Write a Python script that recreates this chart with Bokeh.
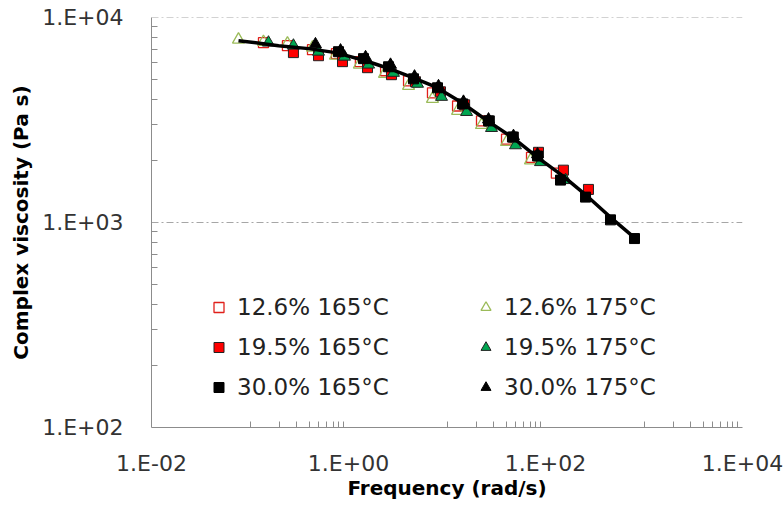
from bokeh.plotting import figure
from bokeh.models import FixedTicker, Legend, LegendItem, Range1d, Span
from bokeh.embed import file_html
from bokeh.resources import INLINE

# ---- data (frequency in rad/s, complex viscosity in Pa s) ----
freq_126_165 = [0.137, 0.240, 0.431, 0.755, 1.32, 2.38, 4.07, 7.12, 12.8, 22.4, 40.2, 72.1, 129]
visc_126_165 = [7540, 7290, 6970, 6660, 6090, 5500, 4910, 4290, 3700, 3130, 2550, 2080, 1740]

freq_126_175 = [0.0764, 0.137, 0.240, 0.431, 0.738, 1.29, 2.32, 4.07, 7.12, 12.8, 22.4, 40.2, 70.4]
visc_126_175 = [7800, 7600, 7460, 7130, 6510, 5890, 5310, 4640, 4010, 3500, 2990, 2470, 2010]

freq_195_165 = [0.276, 0.496, 0.869, 1.56, 2.73, 4.79, 8.59, 15.1, 27.0, 47.3, 84.9, 152, 273]
visc_195_165 = [6740, 6510, 6090, 5690, 5260, 4860, 4340, 3750, 3130, 2610, 2200, 1800, 1450]

freq_195_175 = [0.154, 0.276, 0.496, 0.911, 1.60, 2.86, 5.02, 8.80, 15.8, 28.3, 49.6, 89.0, 160]
visc_195_175 = [7540, 7290, 6810, 6440, 5890, 5370, 4750, 4100, 3460, 2890, 2380, 1970, 1610]

freq_300_165 = [0.792, 1.42, 2.55, 4.57, 8.01, 14.4, 26.4, 46.2, 83.0, 142, 255, 457, 801]
visc_300_165 = [6810, 6300, 5750, 5020, 4540, 3790, 3130, 2610, 2110, 1610, 1330, 1030, 835]

freq_300_175 = [0.462, 0.830, 1.49, 2.67, 4.68, 8.20, 14.7, 26.4, 47.3, 83.0]
visc_300_175 = [7400, 6900, 6400, 5880, 5150, 4620, 3880, 3180, 2640, 2150]

fit_freq = [0.0764, 0.195, 0.393, 0.738, 1.49, 2.80, 4.57, 7.64, 13.7, 25.8, 47.3, 83.0, 152, 267, 457, 820]
fit_visc = [7710, 7290, 7050, 6740, 6150, 5560, 5080, 4590, 3880, 3130, 2580, 2080, 1680, 1340, 1060, 835]

series_labels = ["12.6% 165°C", "19.5% 165°C", "30.0% 165°C",
                 "12.6% 175°C", "19.5% 175°C", "30.0% 175°C"]

x_ticks = [0.01, 1, 100, 10000]
x_tick_labels = ["1.E-02", "1.E+00", "1.E+02", "1.E+04"]
y_ticks = [100, 1000, 10000]
y_tick_labels = ["1.E+02", "1.E+03", "1.E+04"]
x_minor = [k * 0.1 for k in range(1, 10)] + [k * 10 for k in range(1, 10)] + [k * 1000 for k in range(1, 10)]
y_minor = [k * 100 for k in range(2, 10)] + [k * 1000 for k in range(2, 10)]

FONT = "DejaVu Sans"

p = figure(width=783, height=510, x_axis_type="log", y_axis_type="log",
           x_range=Range1d(0.01, 10000), y_range=Range1d(100, 10000),
           output_backend="svg", toolbar_location=None,
           min_border_left=151, min_border_right=41, min_border_top=17, min_border_bottom=83)
p.outline_line_color = None
p.background_fill_color = "white"
p.border_fill_color = "white"

# axes
p.xaxis.ticker = FixedTicker(ticks=x_ticks, minor_ticks=x_minor)
p.yaxis.ticker = FixedTicker(ticks=y_ticks, minor_ticks=y_minor)
p.xaxis.major_label_overrides = {t: l for t, l in zip(x_ticks, x_tick_labels)}
p.yaxis.major_label_overrides = {t: l for t, l in zip(y_ticks, y_tick_labels)}
for ax in (p.xaxis[0], p.yaxis[0]):
    ax.axis_line_color = "#8C8C8C"
    ax.axis_line_width = 1
    ax.major_tick_line_color = None
    ax.major_tick_in = 0
    ax.major_tick_out = 0
    ax.minor_tick_line_color = "#8C8C8C"
    ax.minor_tick_in = 6
    ax.minor_tick_out = 0
    ax.major_label_text_font = FONT
    ax.major_label_text_font_size = "22px"
    ax.major_label_text_color = "#333333"
    ax.axis_label_text_font = FONT
    ax.axis_label_text_font_style = "bold"
    ax.axis_label_text_font_size = "20px"
    ax.axis_label_text_color = "black"

p.xaxis.axis_label = "Frequency (rad/s)"
p.yaxis.axis_label = "Complex viscosity (Pa s)"
p.xaxis.major_label_standoff = 23
p.yaxis.major_label_standoff = 28
p.xaxis.axis_label_standoff = -3
p.yaxis.axis_label_standoff = 6

# grid
p.xgrid.visible = False
p.ygrid.ticker = FixedTicker(ticks=y_ticks)
p.ygrid.grid_line_color = "#A6A6A6"
p.ygrid.grid_line_dash = "7 3 2 3"
p.ygrid.grid_line_width = 1
p.add_layout(Span(location=y_ticks[-1], dimension="width", line_color="#A6A6A6",
                  line_dash="7 3 2 3", line_width=1))

# series
r_126_165 = p.scatter(freq_126_165, visc_126_165, marker="square", size=10,
                      fill_alpha=0, line_color="#E0201B", line_width=1.3)
r_126_175 = p.scatter(freq_126_175, visc_126_175, marker="triangle", size=12,
                      fill_alpha=0, line_color="#9BBB59", line_width=1.3)
r_195_165 = p.scatter(freq_195_165, visc_195_165, marker="square", size=10,
                      fill_color="#FF0000", line_color="#222222", line_width=1)
r_195_175 = p.scatter(freq_195_175, visc_195_175, marker="triangle", size=12,
                      fill_color="#00A651", line_color="#222222", line_width=1)
r_300_175 = p.scatter(freq_300_175, visc_300_175, marker="triangle", size=12,
                      fill_color="black", line_color="black", line_width=1)
r_300_165 = p.scatter(freq_300_165, visc_300_165, marker="square", size=10,
                      fill_color="black", line_color="black", line_width=1)
p.line(fit_freq, fit_visc, line_color="black", line_width=3.5)

renderers_left = [r_126_165, r_195_165, r_300_165]
renderers_right = [r_126_175, r_195_175, r_300_175]


def make_legend(items, loc):
    lg = Legend(items=items, location=loc, orientation="vertical")
    lg.border_line_color = None
    lg.background_fill_alpha = 0
    lg.padding = 0
    lg.margin = 0
    lg.spacing = 10
    lg.glyph_width = 25
    lg.glyph_height = 30
    lg.label_height = 30
    lg.label_standoff = 6
    lg.label_text_font = FONT
    lg.label_text_font_size = "23px"
    lg.label_text_color = "#222222"
    return lg


leg1 = make_legend([LegendItem(label=series_labels[i], renderers=[r]) for i, r in enumerate(renderers_left)], (55, 25))
leg2 = make_legend([LegendItem(label=series_labels[i + 3], renderers=[r]) for i, r in enumerate(renderers_right)], (322, 25))
p.add_layout(leg1)
p.add_layout(leg2)

open("out.html", "w").write(file_html(p, INLINE))
